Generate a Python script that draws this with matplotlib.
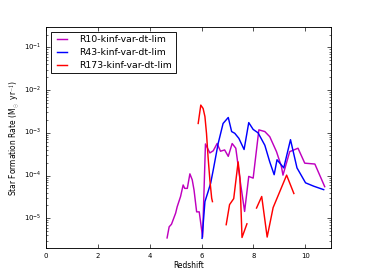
import numpy as np
import matplotlib
matplotlib.use("Agg")
import matplotlib.pyplot as plt

# R10-kinf-var-dt-lim
z_r10 = [4.67, 4.75, 4.84, 5.00, 5.06, 5.19, 5.29, 5.35, 5.45, 5.55, 5.64, 5.71,
         5.81, 5.91, 6.04, 6.15, 6.32, 6.45, 6.60, 6.73, 6.89, 7.03, 7.18, 7.32,
         7.50, 7.66, 7.82, 7.99, 8.21, 8.44, 8.63, 8.89, 9.08, 9.14, 9.40, 9.72,
         9.98, 10.37, 10.75]
logsfr_r10 = [-5.46, -5.20, -5.14, -4.88, -4.73, -4.49, -4.22, -4.30, -4.30, -3.96,
              -4.10, -4.34, -4.85, -4.85, -5.44, -3.26, -3.47, -3.42, -3.25, -3.43,
              -3.40, -3.55, -3.25, -3.36, -4.17, -4.84, -4.02, -4.06, -2.93, -2.97,
              -3.09, -3.44, -3.79, -3.99, -3.44, -3.36, -3.71, -3.73, -4.26]

# R43-kinf-var-dt-lim
z_r43 = [6.02, 6.13, 6.25, 6.35, 6.45, 6.64, 6.83, 7.03, 7.16, 7.28, 7.44, 7.64,
         7.82, 7.99, 8.18, 8.44, 8.63, 8.80, 8.91, 9.17, 9.43, 9.68, 10.01, 10.33,
         10.71]
logsfr_r43 = [-5.47, -4.61, -4.38, -4.18, -3.87, -3.25, -2.78, -2.64, -2.97, -3.01,
              -3.13, -3.39, -2.76, -2.92, -3.00, -3.29, -3.68, -3.98, -3.63, -3.82,
              -3.16, -3.82, -4.17, -4.25, -4.33]

# R173-kinf-var-dt-lim (gaps where no star formation)
z_r173 = [5.87, 5.97, 6.06, 6.13, 6.19, 6.25, 6.32, 6.39, 6.42, 6.70,
          6.95, 7.08, 7.24, 7.41, 7.48, 7.56, 7.75, 7.95,
          8.12, 8.32, 8.53, 8.76, 9.00, 9.28, 9.56]
logsfr_r173 = [-2.78, -2.35, -2.43, -2.62, -3.01, -3.56, -4.10, -4.53, -4.61, np.nan,
               -5.15, -4.68, -4.54, -3.68, -4.06, -5.45, -5.13, np.nan,
               -4.76, -4.49, -5.44, -4.75, -4.40, -3.99, -4.42]

labels = ["R10-kinf-var-dt-lim", "R43-kinf-var-dt-lim", "R173-kinf-var-dt-lim"]
colors = [(0.75, 0, 0.75), "#0000ff", "#ff0000"]

plt.style.use("classic")
fig, ax = plt.subplots(figsize=(4.6, 3.45), dpi=80)
fig.subplots_adjust(left=0.125, right=0.9, bottom=0.101, top=0.902)

series = [(z_r10, logsfr_r10), (z_r43, logsfr_r43), (z_r173, logsfr_r173)]
for (z, logsfr), label, color in zip(series, labels, colors):
    ax.plot(z, 10 ** np.array(logsfr), color=color, lw=1.3, label=label)

ax.set_yscale("log")
ax.set_xlim(0, 11)
ax.set_ylim(2e-6, 3e-1)
ax.set_xticks([0, 2, 4, 6, 8, 10])
ax.tick_params(labelsize=6.2, length=4, width=0.6)
ax.tick_params(which="minor", length=2, width=0.5)
for sp in ax.spines.values():
    sp.set_linewidth(0.8)

ax.set_xlabel("Redshift", fontsize=6.8, labelpad=2)
ax.set_ylabel(r"Star Formation Rate (M$_\odot$ yr$^{-1}$)", fontsize=6.8, labelpad=2)

leg = ax.legend(loc="upper left", fontsize=8.4, handlelength=1.7, borderaxespad=0.55,
                labelspacing=0.4, handletextpad=1.0, borderpad=0.35)
leg.get_frame().set_linewidth(0.8)

fig.savefig("out.png", dpi=80)
